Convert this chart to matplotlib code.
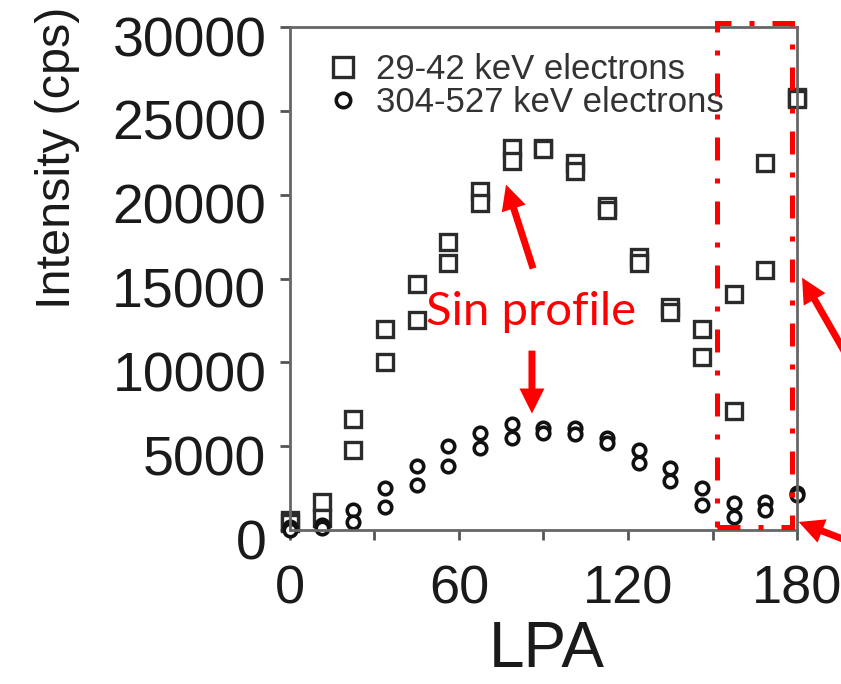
import matplotlib.pyplot as plt
from matplotlib.patches import Rectangle, FancyArrowPatch
from matplotlib.transforms import ScaledTranslation

plt.rcParams['font.family'] = ['Liberation Sans', 'DejaVu Sans']

# look-direction pitch angle bins (deg)
lpa = [0, 11.25, 22.5, 33.75, 45, 56.25, 67.5, 78.75, 90,
       101.25, 112.5, 123.75, 135, 146.25, 157.5, 168.75, 180]

# 29-42 keV electrons, two sweeps
low_a = [600, 1700, 6600, 12000, 14700, 17200, 20200, 22800, 22800,
         21900, 19300, 16300, 13300, 12000, 14100, 21900, 25800]
low_b = [400, 700, 4800, 10000, 12500, 15900, 19500, 22000, 22700,
         21400, 19100, 15900, 13000, 10300, 7100, 15500, 25700]

# 304-527 keV electrons, two sweeps
high_a = [200, 300, 1200, 2500, 3800, 5000, 5800, 6300, 6100,
          6100, 5500, 4800, 3700, 2500, 1600, 1700, 2200]
high_b = [0, 100, 500, 1400, 2700, 3800, 4900, 5500, 5800,
          5700, 5200, 4000, 2900, 1500, 800, 1200, 2100]

yticks = [0, 5000, 10000, 15000, 20000, 25000, 30000]
xticks = [0, 60, 120, 180]
xminor = [30, 90, 150]

# highlighted region near 180 deg
box_x0, box_x1 = 151.5, 178.2
box_y0, box_y1 = 180, 30240

fig = plt.figure(figsize=(8.41, 6.84), dpi=100)
ax = fig.add_axes([0.3448, 0.2251, 0.6029, 0.7354])

sq = dict(marker='s', ms=12, mfc='white', mec='#2b2b2b', mew=2.4, ls='none', clip_on=False)
ci = dict(marker='o', ms=9, mfc='white', mec='#111111', mew=2.6, ls='none', clip_on=False)
h1, = ax.plot(lpa, low_a, **sq)
ax.plot(lpa, low_b, **sq)
h2, = ax.plot(lpa, high_a, **ci)
ax.plot(lpa, high_b, **ci)

ax.set_xlim(0, 180)
ax.set_ylim(0, 30000)
ax.set_xticks(xticks)
ax.set_xticks(xminor, minor=True)
ax.set_yticks(yticks)
ax.set_yticklabels([str(v) for v in yticks])

for s in ax.spines.values():
    s.set_color('#666666')
    s.set_linewidth(2)
ax.tick_params(axis='both', which='both', direction='out', length=7, width=2,
               color='#555555', labelcolor='#1a1a1a')
ax.tick_params(axis='x', labelsize=39, pad=18)
ax.tick_params(axis='y', labelsize=40, pad=10)
for lab in ax.get_yticklabels():
    lab.set_transform(lab.get_transform() + ScaledTranslation(0, -0.09, fig.dpi_scale_trans))

ax.set_ylabel('Intensity (cps)', fontsize=35, color='#1a1a1a')
ax.yaxis.set_label_coords(-0.414, 0.74)
ax.set_xlabel('LPA', fontsize=46, color='#1a1a1a')
ax.xaxis.set_label_coords(0.507, -0.178)

leg = ax.legend([h1, h2], ['29-42 keV electrons', '304-527 keV electrons'],
                loc='upper left', bbox_to_anchor=(0.071, 0.948), frameon=False,
                fontsize=25, labelspacing=0.0, handlelength=1.0, handletextpad=0.45,
                borderpad=0, borderaxespad=0, markerscale=1.15)
for t in leg.get_texts():
    t.set_color('#333333')

# red annotations
red = '#ff0000'
ax.add_patch(Rectangle((box_x0, box_y0), box_x1 - box_x0, box_y1 - box_y0, fill=False,
                       ec=red, lw=3.6, ls=(0, (4.6, 3.6, 1, 3.6)), clip_on=False, zorder=6))
ax.text(85.6, 13000, 'Sin profile', color=red, fontsize=34, family=['Lato', 'DejaVu Sans'],
        ha='center', va='center', zorder=6)

arrows = [((86.3, 15600), (76.7, 20600)),
          ((85.9, 10700), (85.9, 6950)),
          ((198, 10300), (181.8, 15050)),
          ((198, -650), (180.6, 480))]
for tail, tip in arrows:
    ax.add_patch(FancyArrowPatch(tail, tip, arrowstyle='simple,head_length=1.8,head_width=1.8,tail_width=0.5',
                                 mutation_scale=10, color=red, lw=0, clip_on=False, zorder=7,
                                 shrinkA=0, shrinkB=0))

fig.savefig('out.png', dpi=100)
